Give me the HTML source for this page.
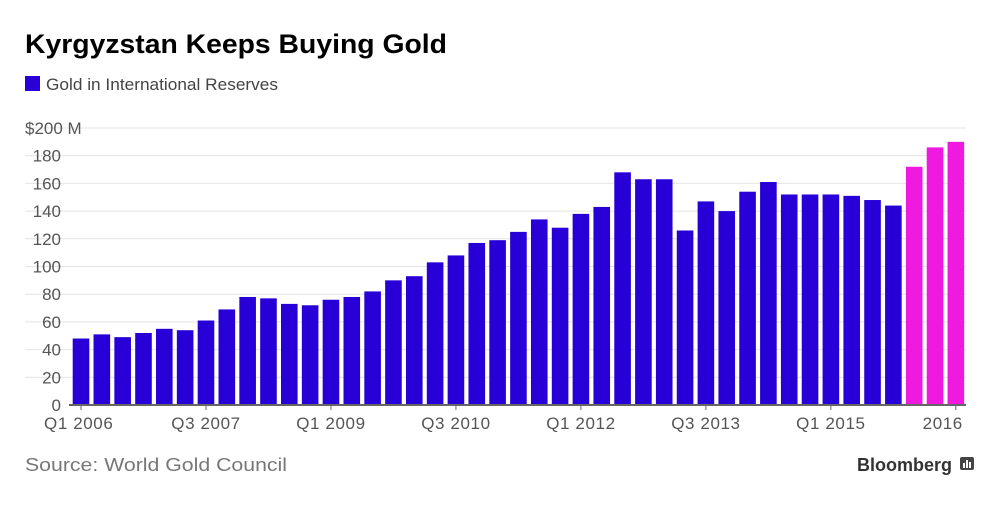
<!DOCTYPE html>
<html><head><meta charset="utf-8"><style>
body{margin:0;width:1000px;height:501px;background:#fff;font-family:"Liberation Sans",Arial,sans-serif;overflow:hidden}
</style></head><body>
<svg width="1000" height="501">
<text x="25" y="53" font-size="27" font-weight="bold" fill="#000" textLength="422" lengthAdjust="spacingAndGlyphs">Kyrgyzstan Keeps Buying Gold</text>
<g>
<rect x="25" y="76" width="15" height="15" fill="#2800d7"/>
<text x="46" y="90" font-size="17" fill="#444" textLength="232" lengthAdjust="spacingAndGlyphs">Gold in International Reserves</text>
</g>
<g id="grid"></g>
<g id="bars"></g>
<g id="xax"></g>
<text x="25" y="471" font-size="18" fill="#777" textLength="262" lengthAdjust="spacingAndGlyphs">Source: World Gold Council</text>
<text x="952" y="471" font-size="18" font-weight="bold" fill="#333" text-anchor="end">Bloomberg</text>
<g><rect x="960" y="457" width="14" height="13" rx="2" fill="#444"/><rect x="963" y="463" width="2" height="5" fill="#fff"/><rect x="966" y="460" width="2" height="8" fill="#fff"/><rect x="969" y="462" width="2" height="6" fill="#fff"/></g>
</svg>
<script>
const values=[48,51,49,52,55,54,61,69,78,77,73,72,76,78,82,90,93,103,108,117,119,125,134,128,138,143,168,163,163,126,147,140,154,161,152,152,152,151,148,144,172,186,190];
const projected=[false,false,false,false,false,false,false,false,false,false,false,false,false,false,false,false,false,false,false,false,false,false,false,false,false,false,false,false,false,false,false,false,false,false,false,false,false,false,false,false,true,true,true];
const yTicks=[0,20,40,60,80,100,120,140,160,180,200];
const xLabels=[[0,"Q1 2006"],[6,"Q3 2007"],[12,"Q1 2009"],[18,"Q3 2010"],[24,"Q1 2012"],[30,"Q3 2013"],[36,"Q1 2015"],[42,"2016"]];
const NS="http://www.w3.org/2000/svg";
const y=v=>405-v*277/200;
const xc=i=>81+i*20.83;
const grid=document.getElementById('grid');
yTicks.forEach(t=>{
 const l=document.createElementNS(NS,'line');
 l.setAttribute('x1',t===0?69:25);l.setAttribute('x2',966);l.setAttribute('y1',y(t));l.setAttribute('y2',y(t));
 l.setAttribute('stroke',t===0?'#666':'#e4e4e4');l.setAttribute('stroke-width',t===0?2:1);
 
 
 grid.appendChild(l);
 const tx=document.createElementNS(NS,'text');
 tx.setAttribute('x',t===200?25:61);tx.setAttribute('y',y(t)+6);tx.setAttribute('font-size','17');tx.setAttribute('fill','#555');
 if(t!==200)tx.setAttribute('text-anchor','end');
 tx.textContent=t===200?'$200 M':t;
 
 
 grid.appendChild(tx);
});
const bars=document.getElementById('bars');
values.forEach((v,i)=>{
 const r=document.createElementNS(NS,'rect');
 r.setAttribute('x',xc(i)-8.3);r.setAttribute('width',16.6);r.setAttribute('y',y(v));r.setAttribute('height',405-y(v));
 r.setAttribute('fill',projected[i]?'#f019e0':'#2800d7');
 
 
 bars.appendChild(r);
});
const xax=document.getElementById('xax');
const ax=document.createElementNS(NS,'line');
ax.setAttribute('x1',69);ax.setAttribute('x2',966);ax.setAttribute('y1',405);ax.setAttribute('y2',405);ax.setAttribute('stroke','#666');ax.setAttribute('stroke-width',2);


xax.appendChild(ax);
xLabels.forEach(([i,s])=>{
 const t=document.createElementNS(NS,'line');
 t.setAttribute('x1',xc(i));t.setAttribute('x2',xc(i));t.setAttribute('y1',405);t.setAttribute('y2',410);t.setAttribute('stroke','#666');
 
 
 xax.appendChild(t);
 const tx=document.createElementNS(NS,'text');
 tx.setAttribute('x',i===0?44:(i===42?xc(i)+7:xc(i)));tx.setAttribute('y',429);tx.setAttribute('font-size','17');tx.setAttribute('fill','#555');
 tx.setAttribute('letter-spacing','0.6');
 tx.setAttribute('text-anchor',i===0?'start':(i===42?'end':'middle'));
 tx.textContent=s;
 
 
 xax.appendChild(tx);
});
</script>
</body></html>
